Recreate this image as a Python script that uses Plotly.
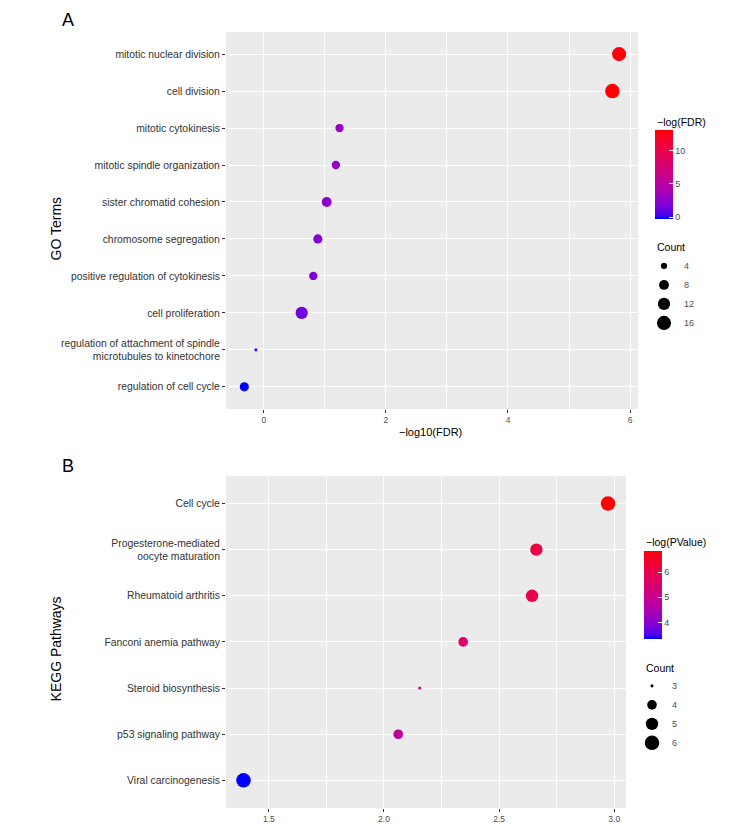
import numpy as np
import plotly.graph_objects as go

# ---------------- data ----------------
go_terms = ["mitotic nuclear division", "cell division", "mitotic cytokinesis",
            "mitotic spindle organization", "sister chromatid cohesion",
            "chromosome segregation", "positive regulation of cytokinesis",
            "cell proliferation",
            "regulation of attachment of spindle<br>microtubules to kinetochore",
            "regulation of cell cycle"]
go_x = [5.82, 5.71, 1.24, 1.18, 1.03, 0.885, 0.81, 0.62, -0.13, -0.32]
go_color = [13.0, 13.2, 2.9, 2.75, 2.4, 2.05, 1.9, 1.45, 0.3, -0.25]
go_count = [16, 17, 6, 6, 8, 7, 6, 12, 3, 7]
go_legend_counts = [4, 8, 12, 16]
go_color_ticks = [0, 5, 10]
go_x_ticks = [0, 2, 4, 6]

kegg_terms = ["Cell cycle", "Progesterone-mediated<br>oocyte maturation",
              "Rheumatoid arthritis", "Fanconi anemia pathway",
              "Steroid biosynthesis", "p53 signaling pathway",
              "Viral carcinogenesis"]
kegg_x = [2.973, 2.662, 2.643, 2.344, 2.155, 2.062, 1.39]
kegg_color = [6.86, 6.15, 6.05, 5.6, 5.3, 4.85, 3.35]
kegg_count = [6, 5, 5, 4, 3, 4, 6]
kegg_legend_counts = [3, 4, 5, 6]
kegg_color_ticks = [4, 5, 6]
kegg_x_ticks = [1.5, 2.0, 2.5, 3.0]

# page is 731x824; the HTML body adds an 8px margin, so the figure is drawn
# offset by (8, 8) and sized to fill the rest of the window
OX, OY = 8, 8
W, H = 731 - OX, 824 - OY
FONT = "Liberation Sans, Arial, Helvetica, sans-serif"


def px(x):
    return (x - OX) / W


def py(y):
    return 1 - (y - OY) / H


# ---------------- helpers (style) ----------------
def _lin(c):
    c = c / 255.0
    return np.where(c <= 0.04045, c / 12.92, ((c + 0.055) / 1.055) ** 2.4)


def _gam(c):
    c = np.where(c <= 0.0031308, 12.92 * c,
                 1.055 * np.power(np.clip(c, 0, None), 1 / 2.4) - 0.055)
    return np.clip(c, 0, 1) * 255


M = np.array([[0.4124, 0.3576, 0.1805], [0.2126, 0.7152, 0.0722], [0.0193, 0.1192, 0.9505]])
WP = np.array([0.95047, 1.0, 1.08883])


def rgb2lab(rgb):
    xyz = M @ _lin(np.array(rgb, float)) / WP
    f = np.where(xyz > 216 / 24389, np.cbrt(xyz), (24389 / 27 * xyz + 16) / 116)
    return np.array([116 * f[1] - 16, 500 * (f[0] - f[1]), 200 * (f[1] - f[2])])


def lab2rgb(lab):
    L, a, b = lab
    fy = (L + 16) / 116
    fx = fy + a / 500
    fz = fy - b / 200
    f = np.array([fx, fy, fz])
    xyz = np.where(f ** 3 > 216 / 24389, f ** 3, (116 * f - 16) / (24389 / 27)) * WP
    return _gam(np.linalg.inv(M) @ xyz)


lab_lo, lab_hi = rgb2lab([0, 0, 255]), rgb2lab([255, 0, 0])
scale = []
for t in np.linspace(0, 1, 21):
    r, g, b = lab2rgb(lab_lo + (lab_hi - lab_lo) * t)
    scale.append([float(t), f"rgb({r:.0f},{g:.0f},{b:.0f})"])


def bubble(counts, lo, hi, dmax):
    # ggplot2 area scale (range 1..6 mm) plus the default point stroke
    c = np.asarray(counts, float)
    s = 1 + 5 * np.sqrt(np.clip((c - lo) / (hi - lo), 0, 1))
    return dmax * (s * 2.845 + 0.945) / (6 * 2.845 + 0.945)


go_lo, go_hi = min(go_count), max(go_count)
kg_lo, kg_hi = min(kegg_count), max(kegg_count)
DMAX = 14.5

fig = go.Figure()

fig.add_trace(go.Scatter(
    x=go_x, y=go_terms, mode="markers", xaxis="x", yaxis="y", showlegend=False,
    marker=dict(size=bubble(go_count, go_lo, go_hi, DMAX), color=go_color,
                coloraxis="coloraxis", line=dict(width=0), opacity=1)))
for c in go_legend_counts:
    fig.add_trace(go.Scatter(
        x=[None], y=[None], mode="markers", xaxis="x", yaxis="y", name=str(c),
        legend="legend", showlegend=True,
        marker=dict(size=float(bubble([c], go_lo, go_hi, DMAX)[0]), color="black")))

fig.add_trace(go.Scatter(
    x=kegg_x, y=kegg_terms, mode="markers", xaxis="x2", yaxis="y2", showlegend=False,
    marker=dict(size=bubble(kegg_count, kg_lo, kg_hi, DMAX), color=kegg_color,
                coloraxis="coloraxis2", line=dict(width=0), opacity=1)))
for c in kegg_legend_counts:
    fig.add_trace(go.Scatter(
        x=[None], y=[None], mode="markers", xaxis="x2", yaxis="y2", name=str(c),
        legend="legend2", showlegend=True,
        marker=dict(size=float(bubble([c], kg_lo, kg_hi, DMAX)[0]), color="black")))

grid = dict(showgrid=True, gridcolor="white", gridwidth=1.3, zeroline=False,
            ticks="outside", ticklen=3, tickwidth=1, tickcolor="#333333",
            showline=False)

cb_common = dict(xanchor="left", xpad=0, yanchor="top", ypad=0, lenmode="pixels",
                 thickness=18, outlinewidth=0, ticks="inside", ticklen=4,
                 tickcolor="white", tickfont=dict(size=9, color="#4D4D4D"))

fig.update_layout(
    width=W, height=H, margin=dict(l=0, r=0, t=0, b=0),
    paper_bgcolor="white", plot_bgcolor="#EBEBEB",
    font=dict(family=FONT, color="#333333"),
    xaxis=dict(domain=[px(226), px(638)], anchor="y", range=[-0.62, 6.13],
               tickvals=go_x_ticks, tickfont=dict(size=8.5, color="#4D4D4D"),
               minor=dict(tickvals=[1, 3, 5], showgrid=True, gridcolor="white",
                          gridwidth=0.6, ticks=""),
               **grid),
    yaxis=dict(domain=[py(410), py(32)], anchor="x", type="category",
               categoryorder="array", categoryarray=go_terms[::-1],
               range=[-0.6, len(go_terms) - 0.4],
               tickfont=dict(size=10.4, color="#333333"), **grid),
    xaxis2=dict(domain=[px(226), px(626)], anchor="y2", range=[1.314, 3.051],
                tickvals=kegg_x_ticks, ticktext=["1.5", "2.0", "2.5", "3.0"],
                tickfont=dict(size=8.5, color="#4D4D4D"),
                minor=dict(tickvals=[1.75, 2.25, 2.75], showgrid=True,
                           gridcolor="white", gridwidth=0.6, ticks=""),
                **grid),
    yaxis2=dict(domain=[py(810), py(477)], anchor="x2", type="category",
                categoryorder="array", categoryarray=kegg_terms[::-1],
                range=[-0.6, len(kegg_terms) - 0.4],
                tickfont=dict(size=10.4, color="#333333"), **grid),
    coloraxis=dict(colorscale=scale, cmin=min(go_color), cmax=max(go_color),
                   colorbar=dict(x=px(655), y=py(130), len=89,
                                 tickvals=go_color_ticks, **cb_common)),
    coloraxis2=dict(colorscale=scale, cmin=min(kegg_color), cmax=max(kegg_color),
                    colorbar=dict(x=px(644), y=py(552), len=88,
                                  tickvals=kegg_color_ticks, **cb_common)),
    legend=dict(x=px(644), xanchor="left", y=py(252), yanchor="top",
                font=dict(size=9, color="#4D4D4D"), itemsizing="trace",
                tracegroupgap=0, bgcolor="rgba(0,0,0,0)", borderwidth=0),
    legend2=dict(x=px(632), xanchor="left", y=py(673), yanchor="top",
                 font=dict(size=9, color="#4D4D4D"), itemsizing="trace",
                 tracegroupgap=0, bgcolor="rgba(0,0,0,0)", borderwidth=0),
)


def ann(text, x, y, size, xanchor="left", angle=0, color="black"):
    fig.add_annotation(text=text, x=px(x), y=py(y), xref="paper", yref="paper",
                       xanchor=xanchor, yanchor="middle", showarrow=False,
                       textangle=angle, font=dict(size=size, color=color, family=FONT))


ann("A", 68, 20, 18, "center")
ann("B", 68, 467, 18, "center")
ann("GO Terms", 56, 229, 14, "center", -90)
ann("KEGG Pathways", 56, 651, 14, "center", -90)
ann("\u2212log10(FDR)", 430, 433, 11, "center")
ann("\u2212log(FDR)", 655, 122, 10.5)
ann("\u2212log(PValue)", 644, 543, 10.5)
ann("Count", 655, 248, 10.5)
ann("Count", 644, 670, 10.5)

fig.write_html("out.html")
